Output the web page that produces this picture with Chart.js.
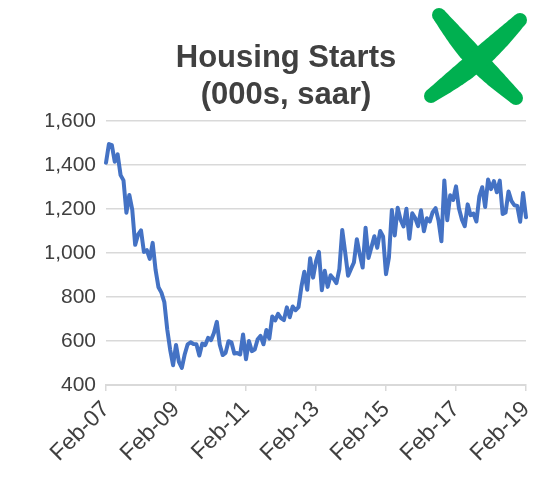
<!DOCTYPE html>
<html>
<head>
<meta charset="utf-8">
<script src="https://cdn.jsdelivr.net/npm/chart.js@4/dist/chart.umd.min.js"></script>
<style>
  html, body { margin: 0; padding: 0; background: #ffffff; }
  #wrap { width: 556px; height: 477px; }
</style>
</head>
<body>
<div id="wrap"><canvas id="c" width="556" height="477"></canvas></div>
<script>
// ---- Data ----
const titleLines = ["Housing Starts", "(000s, saar)"];
const monthNames = ["Jan","Feb","Mar","Apr","May","Jun","Jul","Aug","Sep","Oct","Nov","Dec"];
const startYear = 2007, startMonth = 1; // Feb-07
const monthCount = 145;                   // Feb-07 .. Feb-19

const starts2007 = [1410, 1495, 1490, 1415, 1448, 1354, 1330, 1183, 1264, 1197, 1037];
const starts2008 = [1084, 1103, 1005, 1013, 973, 1046, 923, 844, 820, 777, 652, 560];
const starts2009 = [490, 582, 505, 478, 540, 585, 594, 586, 585, 534, 588, 581];
const starts2010 = [614, 604, 636, 687, 583, 536, 546, 599, 594, 543, 545, 539];
const starts2011 = [630, 517, 600, 554, 561, 608, 623, 585, 650, 611, 711, 694];
const starts2012 = [723, 704, 695, 753, 708, 757, 740, 754, 847, 915, 833, 976];
const starts2013 = [888, 962, 1005, 831, 919, 846, 899, 883, 863, 926, 1105, 1003];
const starts2014 = [897, 928, 957, 1063, 994, 934, 1115, 977, 1026, 1076, 1024, 1100];
const starts2015 = [1075, 904, 979, 1195, 1080, 1206, 1151, 1121, 1201, 1065, 1181, 1159];
const starts2016 = [1122, 1194, 1099, 1158, 1143, 1186, 1204, 1148, 1053, 1330, 1149, 1262];
const starts2017 = [1241, 1303, 1203, 1153, 1122, 1221, 1172, 1179, 1143, 1257, 1299, 1209];
const starts2018 = [1334, 1290, 1327, 1276, 1329, 1177, 1184, 1280, 1237, 1217, 1214, 1142];
const starts2019 = [1273, 1162];

const yTicks = [400, 600, 800, 1000, 1200, 1400, 1600];
const xLabelEvery = 24; // Feb-07, Feb-09, ... Feb-19

// ---- Build ----
const categories = [];
for (let i = 0; i < monthCount; i++) {
  const m = (startMonth + i) % 12;
  const y = startYear + Math.floor((startMonth + i) / 12);
  categories.push(monthNames[m] + "-" + String(y % 100).padStart(2, "0"));
}
const housingStarts = [].concat(starts2007, starts2008, starts2009, starts2010, starts2011,
  starts2012, starts2013, starts2014, starts2015, starts2016, starts2017, starts2018, starts2019);

const FONT = "'Liberation Sans', Arial, Helvetica, sans-serif";
const GRID = "#d9d9d9";

// green "X" mark drawn as two brush strokes
const crossMark = {
  id: "crossMark",
  afterDraw(chart) {
    const ctx = chart.ctx;
    function stroke(ax, ay, bx, by, wEnd, wMid, bend) {
      const dx = bx - ax, dy = by - ay;
      const len = Math.hypot(dx, dy);
      const ux = dx / len, uy = dy / len;
      const nx = -uy, ny = ux;
      const N = 40, left = [], right = [];
      for (let i = 0; i <= N; i++) {
        const t = i / N;
        const h = (wEnd + (wMid - wEnd) * Math.sin(Math.PI * t)) / 2;
        const off = bend * Math.sin(Math.PI * t);
        const cx = ax + dx * t + nx * off, cy = ay + dy * t + ny * off;
        left.push([cx + nx * h, cy + ny * h]);
        right.push([cx - nx * h, cy - ny * h]);
      }
      ctx.beginPath();
      ctx.moveTo(left[0][0], left[0][1]);
      for (const p of left) ctx.lineTo(p[0], p[1]);
      for (let i = right.length - 1; i >= 0; i--) ctx.lineTo(right[i][0], right[i][1]);
      ctx.closePath();
      ctx.fill();
      ctx.beginPath(); ctx.arc(ax, ay, wEnd / 2, 0, Math.PI * 2); ctx.fill();
      ctx.beginPath(); ctx.arc(bx, by, wEnd / 2, 0, Math.PI * 2); ctx.fill();
    }
    ctx.save();
    ctx.fillStyle = "#00b050";
    stroke(439, 15, 516, 98, 14, 21, 3);
    stroke(520, 20, 431, 96, 14, 21, -3);
    ctx.restore();
  }
};

new Chart(document.getElementById("c"), {
  type: "line",
  data: {
    labels: categories,
    datasets: [{
      label: "Housing Starts",
      data: housingStarts,
      borderColor: "#4472c4",
      backgroundColor: "#4472c4",
      borderWidth: 4,
      pointRadius: 0,
      tension: 0,
      borderJoinStyle: "round",
      borderCapStyle: "round"
    }]
  },
  options: {
    responsive: false,
    animation: false,
    devicePixelRatio: 1,
    layout: { padding: { left: 46, right: 30, top: 0, bottom: 0 } },
    plugins: {
      legend: { display: false },
      tooltip: { enabled: false },
      title: {
        display: true,
        text: titleLines,
        color: "#404040",
        font: { family: FONT, size: 31, weight: "bold", lineHeight: "37px" },
        padding: { top: 40, bottom: 7 }
      }
    },
    scales: {
      x: {
        type: "category",
        offset: false,
        grid: {
          display: true,
          drawOnChartArea: false,
          drawTicks: true,
          tickLength: 6,
          lineWidth: 1.5,
          color: (c) => (c.index % xLabelEvery === 0 ? GRID : "rgba(0,0,0,0)")
        },
        border: { display: true, color: GRID, width: 2 },
        ticks: {
          autoSkip: false,
          maxRotation: 45,
          minRotation: 45,
          padding: 5,
          color: "#404040",
          font: { family: FONT, size: 23 },
          callback: function (val, idx) {
            return idx % xLabelEvery === 0 ? this.getLabelForValue(val) : "";
          }
        },
        afterFit: (s) => { s.height = 92; }
      },
      y: {
        min: yTicks[0],
        max: yTicks[yTicks.length - 1],
        afterBuildTicks: (s) => { s.ticks = yTicks.map(v => ({ value: v })); },
        grid: { color: GRID, lineWidth: 1.5, drawTicks: false },
        border: { display: false },
        ticks: {
          padding: 10,
          color: "#404040",
          font: { family: FONT, size: 21 },
          callback: (v) => Number(v).toLocaleString("en-US")
        },
        afterFit: (s) => { s.width = 60; }
      }
    }
  },
  plugins: [crossMark]
});
</script>
</body>
</html>
